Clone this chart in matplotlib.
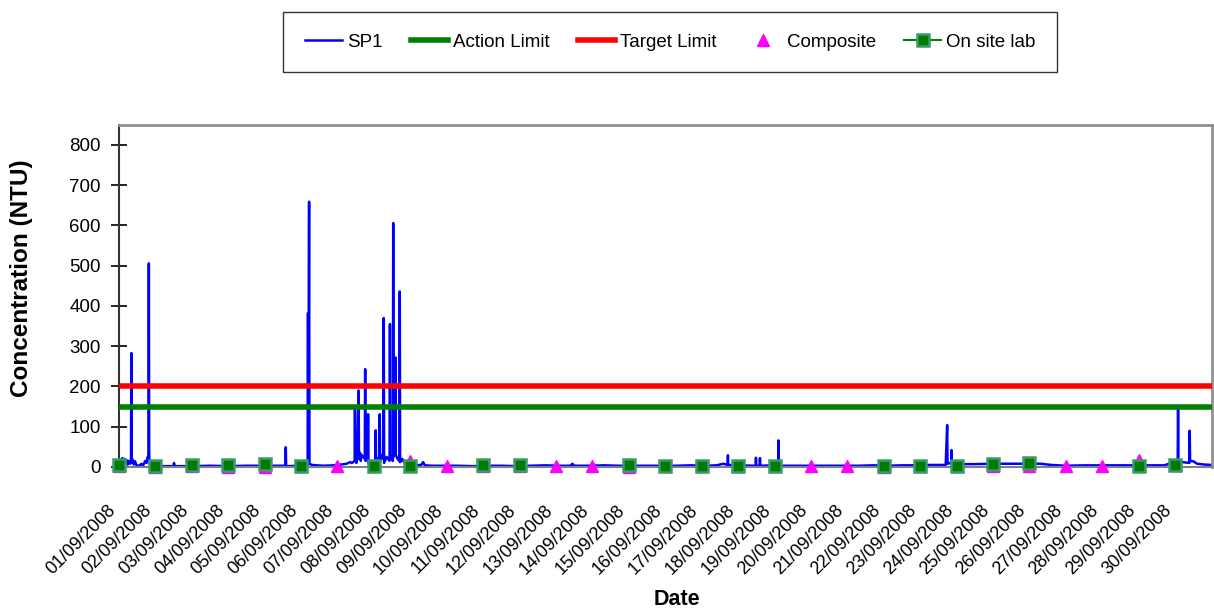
import matplotlib
matplotlib.use("Agg")
import matplotlib.pyplot as plt
import matplotlib.dates as mdates
from matplotlib.lines import Line2D
import numpy as np
import pandas as pd

# ---------------- data ----------------
start_date = "2008-09-01"
n_days = 30

# SP1 turbidity record (day offset from 01/09/2008, NTU)
sp1_day = [0.00, 0.03, 0.06, 0.09, 0.12, 0.15, 0.18, 0.21, 0.24, 0.27, 0.31, 0.33, 0.34, 0.35,
           0.38, 0.41, 0.44, 0.48, 0.55, 0.62, 0.66, 0.72, 0.76, 0.79, 0.81, 0.82, 0.83, 0.86,
           0.95, 1.20, 1.50, 1.51, 1.53, 2.00, 2.50, 3.00, 3.50, 4.00, 4.57, 4.58, 4.59, 5.00,
           5.18, 5.19, 5.20, 5.22, 5.23, 5.30, 5.60, 5.90, 6.10, 6.25, 6.35, 6.40, 6.47, 6.48,
           6.49, 6.52, 6.53, 6.54, 6.58, 6.59, 6.62, 6.64, 6.66, 6.75, 6.76, 6.77, 6.83, 6.84,
           6.85, 6.95, 7.04, 7.05, 7.06, 7.10, 7.15, 7.16, 7.17, 7.20, 7.26, 7.27, 7.28, 7.35,
           7.43, 7.44, 7.45, 7.48, 7.52, 7.53, 7.54, 7.58, 7.59, 7.60, 7.65, 7.70, 7.71, 7.72,
           7.78, 7.85, 7.95, 8.10, 8.30, 8.35, 8.40, 8.60, 8.90, 9.30, 9.70, 10.10, 10.50, 10.90,
           11.30, 11.70, 12.10, 12.40, 12.45, 12.50, 12.90, 13.30, 13.70, 14.10, 14.50, 14.90,
           15.30, 15.70, 16.10, 16.40, 16.60, 16.71, 16.72, 16.73, 17.00, 17.48, 17.49, 17.50,
           17.59, 17.60, 17.61, 18.00, 18.10, 18.11, 18.12, 18.30, 18.70, 19.10, 19.50, 19.90,
           20.30, 20.70, 21.10, 21.50, 21.90, 22.30, 22.70, 22.74, 22.75, 22.85, 22.86, 22.87,
           23.00, 23.50, 24.00, 24.50, 25.00, 25.30, 25.60, 26.00, 26.50, 27.00, 27.50, 28.00,
           28.40, 28.70, 28.90, 29.00, 29.07, 29.08, 29.09, 29.20, 29.39, 29.40, 29.41, 29.50,
           29.60, 29.80, 30.00]
sp1_ntu = [5, 18, 8, 22, 10, 20, 9, 17, 6, 15, 8, 12, 283, 10,
           18, 6, 14, 4, 3, 8, 3, 15, 10, 25, 20, 506, 22, 5,
           3, 2, 2, 10, 2, 2, 3, 2, 3, 3, 3, 49, 2, 3,
           4, 382, 20, 659, 8, 5, 3, 4, 6, 8, 12, 10, 15, 144,
           20, 10, 82, 18, 190, 20, 35, 15, 30, 20, 243, 15, 20, 131,
           10, 12, 15, 91, 10, 20, 25, 131, 15, 30, 20, 370, 10, 25,
           15, 355, 30, 20, 15, 606, 25, 60, 272, 30, 20, 15, 436, 12,
           20, 8, 5, 4, 5, 12, 4, 3, 3, 3, 2, 3, 3, 2,
           3, 4, 3, 3, 8, 3, 3, 4, 3, 3, 3, 3,
           3, 4, 3, 4, 8, 5, 29, 5, 4, 3, 23, 3,
           3, 22, 3, 4, 3, 66, 3, 3, 3, 3, 3, 3,
           3, 4, 3, 4, 4, 5, 5, 104, 8, 10, 42, 8,
           7, 7, 8, 8, 8, 8, 5, 3, 4, 4, 4, 4,
           4, 4, 10, 8, 12, 148, 15, 12, 10, 90, 15, 14,
           8, 6, 5]

action_limit = 150
target_limit = 200

composite_day = list(range(30))
composite_ntu = [2, 0, 2, 1, 1, 3, 2, 2, 16, 2, 2, 3, 3, 3, 1,
                 2, 2, 2, 2, 3, 3, 1, 2, 2, 3, 2, 2, 3, 17, 4]

lab_day = [0, 1, 2, 3, 4, 5, 7, 8, 10, 11, 14, 15, 16, 17, 18, 21, 22, 23, 24, 25, 28, 29]
lab_ntu = [5, 2, 4, 6, 7, 3, 3, 3, 4, 4, 5, 3, 3, 2, 3, 3, 3, 3, 8, 9, 2, 4]

y_ticks = [0, 100, 200, 300, 400, 500, 600, 700, 800]

# ---------------- plot ----------------
base = pd.Timestamp(start_date)
def to_dt(days):
    return base + pd.to_timedelta(np.asarray(days, dtype=float), unit="D")

fam = ["Liberation Sans", "DejaVu Sans"]

fig = plt.figure(figsize=(12.14, 6.12), dpi=100)
ax = fig.add_axes([0.098, 0.237, 0.900, 0.559])

ax.plot(to_dt(sp1_day), sp1_ntu, color="#0000FF", lw=1.8, zorder=2)
ax.axhline(action_limit, color="#008000", lw=4, zorder=3)
ax.axhline(target_limit, color="#FF0000", lw=4, zorder=3)
ax.plot(to_dt(composite_day), composite_ntu, ls="none", marker="^", ms=9,
        color="#FF00FF", mec="#FF00FF", zorder=4, clip_on=False)
ax.plot(to_dt(lab_day), lab_ntu, ls="none", marker="s", ms=8.5,
        mfc="#007A00", mec="#3A9A6A", mew=1.8, zorder=5, clip_on=False)

ax.set_xlim(base, base + pd.Timedelta(days=n_days))
ax.set_ylim(0, 850)
ax.set_yticks(y_ticks)
ax.set_xticks(to_dt(range(n_days)))
ax.xaxis.set_major_formatter(mdates.DateFormatter("%d/%m/%Y"))

for lab in ax.get_xticklabels():
    lab.set_rotation(45)
    lab.set_ha("right")
    lab.set_va("top")
    lab.set_fontfamily(fam)
    lab.set_fontsize(13)
for lab in ax.get_yticklabels():
    lab.set_fontfamily(fam)
    lab.set_fontsize(13.5)

ax.tick_params(axis="x", length=0, pad=25)
ax.tick_params(axis="y", direction="inout", length=12, width=1.2, pad=7)

ax.spines["left"].set_color("#333333")
ax.spines["left"].set_linewidth(1.5)
ax.spines["bottom"].set_color("#808080")
ax.spines["bottom"].set_linewidth(1.5)
ax.spines["top"].set_color("#909090")
ax.spines["top"].set_linewidth(2)
ax.spines["right"].set_color("#909090")
ax.spines["right"].set_linewidth(2)

ax.set_ylabel("Concentration (NTU)", fontfamily=fam, fontweight="bold", fontsize=17.5)
ax.yaxis.set_label_coords(-0.0787, 0.553)
fig.text(0.558, 0.0115, "Date", fontfamily=fam, fontweight="bold",
         fontsize=15.5, ha="center", va="baseline")

handles = [
    Line2D([], [], color="#0000FF", lw=1.8),
    Line2D([], [], color="#008000", lw=4),
    Line2D([], [], color="#FF0000", lw=4),
    Line2D([], [], ls="none", marker="^", ms=9, color="#FF00FF"),
    Line2D([], [], color="#008000", lw=1.5, marker="s", ms=8.5,
           mfc="#007A00", mec="#3A9A6A", mew=1.8),
]
labels = ["SP1", "Action Limit", "Target Limit", "Composite", "On site lab"]
leg = fig.legend(handles, labels, loc="center", bbox_to_anchor=(0.552, 0.931),
                 ncol=5, frameon=True, fancybox=False, edgecolor="black",
                 handlelength=2.0, handletextpad=0.25, columnspacing=1.5,
                 borderpad=1.15, prop={"family": fam, "size": 13.5})
leg.get_frame().set_linewidth(1.0)

fig.savefig("out.png", dpi=100)
